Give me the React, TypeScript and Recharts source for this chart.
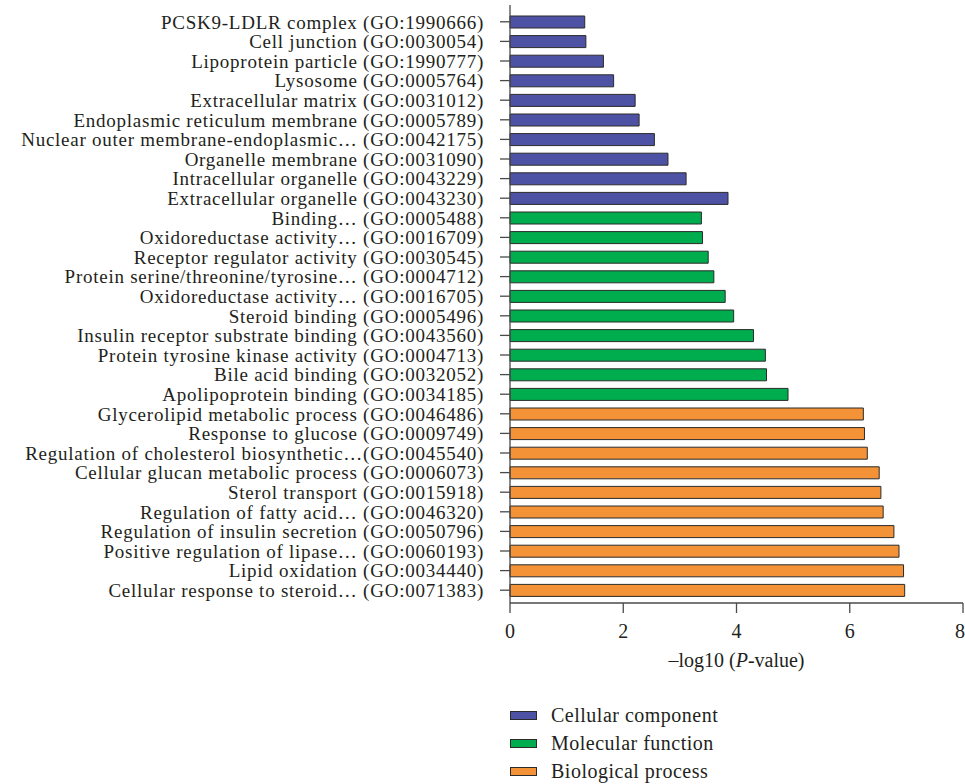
import { BarChart, Bar, XAxis, YAxis, Legend } from 'recharts'

const terms = [
  'PCSK9-LDLR complex (GO:1990666)',
  'Cell junction (GO:0030054)',
  'Lipoprotein particle (GO:1990777)',
  'Lysosome (GO:0005764)',
  'Extracellular matrix (GO:0031012)',
  'Endoplasmic reticulum membrane (GO:0005789)',
  'Nuclear outer membrane-endoplasmic… (GO:0042175)',
  'Organelle membrane (GO:0031090)',
  'Intracellular organelle (GO:0043229)',
  'Extracellular organelle (GO:0043230)',
  'Binding… (GO:0005488)',
  'Oxidoreductase activity… (GO:0016709)',
  'Receptor regulator activity (GO:0030545)',
  'Protein serine/threonine/tyrosine… (GO:0004712)',
  'Oxidoreductase activity… (GO:0016705)',
  'Steroid binding (GO:0005496)',
  'Insulin receptor substrate binding (GO:0043560)',
  'Protein tyrosine kinase activity (GO:0004713)',
  'Bile acid binding (GO:0032052)',
  'Apolipoprotein binding (GO:0034185)',
  'Glycerolipid metabolic process (GO:0046486)',
  'Response to glucose (GO:0009749)',
  'Regulation of cholesterol biosynthetic…(GO:0045540)',
  'Cellular glucan metabolic process (GO:0006073)',
  'Sterol transport (GO:0015918)',
  'Regulation of fatty acid… (GO:0046320)',
  'Regulation of insulin secretion (GO:0050796)',
  'Positive regulation of lipase… (GO:0060193)',
  'Lipid oxidation (GO:0034440)',
  'Cellular response to steroid… (GO:0071383)',
]

const values = [
  1.32, 1.34, 1.65, 1.83, 2.21, 2.28, 2.55, 2.79, 3.11, 3.85,
  3.38, 3.4, 3.5, 3.6, 3.8, 3.95, 4.3, 4.51, 4.53, 4.91,
  6.24, 6.26, 6.31, 6.52, 6.55, 6.59, 6.78, 6.87, 6.95, 6.97,
]

const groups = [
  'cc', 'cc', 'cc', 'cc', 'cc', 'cc', 'cc', 'cc', 'cc', 'cc',
  'mf', 'mf', 'mf', 'mf', 'mf', 'mf', 'mf', 'mf', 'mf', 'mf',
  'bp', 'bp', 'bp', 'bp', 'bp', 'bp', 'bp', 'bp', 'bp', 'bp',
]

const seriesKeys = ['cc', 'mf', 'bp']
const seriesNames = ['Cellular component', 'Molecular function', 'Biological process']
const xTicks = [0, 2, 4, 6, 8]

const COLORS: Record<string, string> = { cc: '#4e52a4', mf: '#00ad4e', bp: '#f39237' }
const FONT = '"Liberation Serif", "DejaVu Serif", serif'
const TEXT = '#231f20'
const AXIS = '#4a4a4a'

const rows = terms.map((term, i) => ({ term, [groups[i]]: values[i] }))

function XLabel({ viewBox }: any) {
  const cx = viewBox.x + viewBox.width / 2
  return (
    <text x={cx} y={viewBox.y + 64} textAnchor="middle" fontFamily={FONT} fontSize={20} fill={TEXT}>
      –log10 (<tspan fontStyle="italic">P</tspan>-value)
    </text>
  )
}

function LegendBox({ payload }: any) {
  const items = [...(payload || [])].sort(
    (a: any, b: any) => seriesNames.indexOf(a.value) - seriesNames.indexOf(b.value)
  )
  return (
    <div style={{ fontFamily: FONT, fontSize: 20, letterSpacing: 0.5, color: TEXT }}>
      {items.map((p: any) => (
        <div key={p.value} style={{ display: 'flex', alignItems: 'center', height: 28 }}>
          <span style={{ display: 'inline-block', width: 25, height: 7, background: p.color, border: '1px solid #2b2b2b', marginRight: 14 }} />
          <span>{p.value}</span>
        </div>
      ))}
    </div>
  )
}

export default function App() {
  return (
    <div style={{ position: 'absolute', left: 0, top: 0, width: 965, height: 784, overflow: 'hidden', background: '#fff' }}>
      <BarChart width={965} height={784} data={rows} layout="vertical" margin={{ top: 5, right: 2, left: 0, bottom: 0 }}>
        <XAxis
          type="number"
          domain={[0, 8]}
          ticks={xTicks}
          height={69}
          tickSize={10}
          tickMargin={11}
          stroke={AXIS}
          strokeWidth={1.3}
          tick={{ fontFamily: FONT, fontSize: 20, fill: TEXT }}
          label={<XLabel />}
        />
        <YAxis
          type="category"
          dataKey="term"
          width={510}
          interval={0}
          tickSize={10}
          tickMargin={16}
          padding={{ top: 7, bottom: 3 }}
          stroke={AXIS}
          strokeWidth={1.3}
          tick={{ fontFamily: FONT, fontSize: 19, letterSpacing: 0.75, fill: TEXT }}
        />
        <Legend
          layout="vertical"
          align="center"
          verticalAlign="bottom"
          content={<LegendBox />}
          wrapperStyle={{ left: 510, top: 701, width: 300, height: 112 }}
        />
        {seriesKeys.map((k, i) => (
          <Bar
            key={k}
            dataKey={k}
            name={seriesNames[i]}
            stackId="go"
            fill={COLORS[k]}
            stroke="#2b2b2b"
            strokeWidth={1}
            barSize={12}
            isAnimationActive={false}
          />
        ))}
      </BarChart>
    </div>
  )
}
